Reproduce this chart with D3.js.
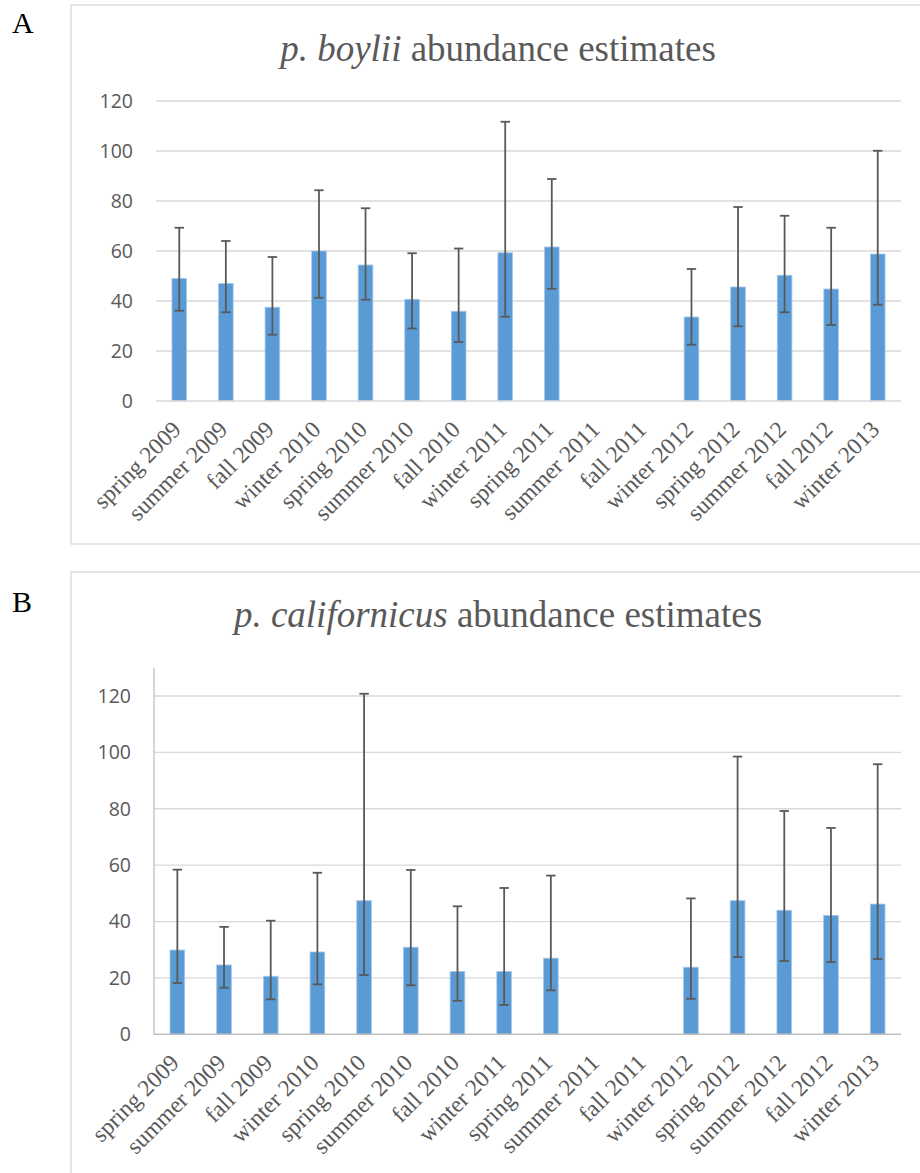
<!DOCTYPE html>
<html>
<head>
<meta charset="utf-8">
<script src="https://cdn.jsdelivr.net/npm/d3@7"></script>
<style>
  body { margin: 0; background: #fff; }
  svg { display: block; }
  .serif { font-family: 'Liberation Serif', 'Times New Roman', serif; }
  .sans { font-family: 'Open Sans', sans-serif; }
</style>
</head>
<body>
<div id="chart"></div>
<script>
// Seasons sampled (summer 2011 and fall 2011 have no estimate)
var seasons = ['spring 2009', 'summer 2009', 'fall 2009', 'winter 2010',
               'spring 2010', 'summer 2010', 'fall 2010', 'winter 2011',
               'spring 2011', 'summer 2011', 'fall 2011', 'winter 2012',
               'spring 2012', 'summer 2012', 'fall 2012', 'winter 2013'];

// p. boylii estimates with lower / upper confidence limits
var boyliiEst   = [49, 47, 37.5, 60, 54.4, 40.7, 35.9, 59.3, 61.6, null, null, 33.6, 45.6, 50.3, 44.8, 58.8];
var boyliiLower = [36.1, 35.5, 26.5, 41.3, 40.5, 29, 23.6, 33.7, 44.9, null, null, 22.5, 29.9, 35.5, 30.4, 38.5];
var boyliiUpper = [69.3, 64, 57.6, 84.3, 77.1, 59.1, 61, 111.7, 88.8, null, null, 52.8, 77.6, 74.1, 69.3, 100.1];

// p. californicus estimates with lower / upper confidence limits
var califEst   = [29.9, 24.6, 20.6, 29.2, 47.4, 30.9, 22.3, 22.3, 27, null, null, 23.8, 47.4, 44, 42.2, 46.2];
var califLower = [18.2, 16.5, 12.4, 17.7, 21, 17.4, 11.9, 10.4, 15.6, null, null, 12.6, 27.4, 26, 25.6, 26.7];
var califUpper = [58.4, 38.1, 40.3, 57.3, 120.8, 58.3, 45.4, 51.9, 56.3, null, null, 48.2, 98.5, 79.2, 73.2, 95.8];

var yTicks = [0, 20, 40, 60, 80, 100, 120];

var barColor = "#5b9bd5";
var textColor = "#595959";
var gridColor = "#d9d9d9";

var svg = d3.select("#chart").append("svg")
    .attr("width", 920)
    .attr("height", 1173);

var panels = [
    {
        letter: "A", letterY: 33,
        box: {x: 71, y: 5, w: 880, h: 539},
        species: "p. boylii", titleY: 61, titleX: 498,
        left: 156, right: 901, top: 101, bottom: 401, yMax: 120,
        axisLine: false,
        est: boyliiEst, lower: boyliiLower, upper: boyliiUpper
    },
    {
        letter: "B", letterY: 612,
        box: {x: 71, y: 572, w: 880, h: 700},
        species: "p. californicus", titleY: 627, titleX: 498,
        left: 154, right: 901, top: 667.8, bottom: 1034.3, yMax: 130,
        axisLine: true,
        est: califEst, lower: califLower, upper: califUpper
    }
];

panels.forEach(function (p) {
    // Panel letter
    svg.append("text")
        .attr("class", "serif")
        .attr("x", 12)
        .attr("y", p.letterY)
        .style("font-size", "30px")
        .attr("fill", "#000")
        .text(p.letter);

    // Chart border
    svg.append("rect")
        .attr("x", p.box.x)
        .attr("y", p.box.y)
        .attr("width", p.box.w)
        .attr("height", p.box.h)
        .attr("fill", "none")
        .attr("stroke", gridColor)
        .attr("stroke-width", 1.3);

    // Title
    var title = svg.append("text")
        .attr("class", "serif")
        .attr("x", p.titleX)
        .attr("y", p.titleY)
        .attr("text-anchor", "middle")
        .style("font-size", "37px")
        .attr("fill", textColor);
    title.append("tspan").style("font-style", "italic").text(p.species);
    title.append("tspan").text(" abundance estimates");

    // Scales
    var x = d3.scaleBand()
        .domain(seasons)
        .range([p.left, p.right]);

    var y = d3.scaleLinear()
        .domain([0, p.yMax])
        .range([p.bottom, p.top]);

    var barW = x.bandwidth() * 0.315;

    // Gridlines
    svg.append("g")
        .selectAll("line")
        .data(yTicks.slice(1))
        .enter().append("line")
        .attr("x1", p.left)
        .attr("x2", p.right)
        .attr("y1", function (d) { return y(d); })
        .attr("y2", function (d) { return y(d); })
        .attr("stroke", gridColor)
        .attr("stroke-width", 1.3);

    // Y axis labels
    var yAxis = d3.axisLeft(y)
        .tickValues(yTicks)
        .tickSize(0)
        .tickPadding(23);

    var yg = svg.append("g")
        .attr("transform", "translate(" + p.left + ",0)")
        .call(yAxis);
    yg.select(".domain").remove();
    yg.selectAll("text")
        .attr("class", "sans")
        .style("font-size", "19.5px")
        .attr("fill", textColor);

    if (p.axisLine) {
        svg.append("line")
            .attr("x1", p.left)
            .attr("x2", p.left)
            .attr("y1", p.top)
            .attr("y2", p.bottom)
            .attr("stroke", "#bfbfbf")
            .attr("stroke-width", 1.3);
    }

    // Bars
    var rows = seasons.map(function (s, i) {
        return {season: s, est: p.est[i], lower: p.lower[i], upper: p.upper[i]};
    }).filter(function (d) { return d.est != null; });

    svg.append("g")
        .selectAll("rect")
        .data(rows)
        .enter().append("rect")
        .attr("x", function (d) { return x(d.season) + (x.bandwidth() - barW) / 2; })
        .attr("y", function (d) { return y(d.est); })
        .attr("width", barW)
        .attr("height", function (d) { return y(0) - y(d.est); })
        .attr("fill", barColor)
        .attr("stroke", "#a8c9ec")
        .attr("stroke-width", 0.8);

    // X axis line
    svg.append("line")
        .attr("x1", p.left)
        .attr("x2", p.right)
        .attr("y1", y(0))
        .attr("y2", y(0))
        .attr("stroke", p.axisLine ? "#bfbfbf" : gridColor)
        .attr("stroke-width", 1.6);

    // Error bars
    var eg = svg.append("g")
        .selectAll("g")
        .data(rows)
        .enter().append("g")
        .attr("stroke", textColor)
        .attr("stroke-width", 1.8);

    eg.append("line")
        .attr("x1", function (d) { return x(d.season) + x.bandwidth() / 2; })
        .attr("x2", function (d) { return x(d.season) + x.bandwidth() / 2; })
        .attr("y1", function (d) { return y(d.lower); })
        .attr("y2", function (d) { return y(d.upper); });

    ['lower', 'upper'].forEach(function (k) {
        eg.append("line")
            .attr("x1", function (d) { return x(d.season) + x.bandwidth() / 2 - 4.7; })
            .attr("x2", function (d) { return x(d.season) + x.bandwidth() / 2 + 4.7; })
            .attr("y1", function (d) { return y(d[k]); })
            .attr("y2", function (d) { return y(d[k]); });
    });

    // Rotated category labels
    svg.append("g")
        .selectAll("text")
        .data(seasons)
        .enter().append("text")
        .attr("class", "serif")
        .attr("transform", function (d) {
            var cx = x(d) + x.bandwidth() / 2 + 3;
            var cy = y(0) + 30;
            return "translate(" + cx + "," + cy + ") rotate(-45)";
        })
        .attr("text-anchor", "end")
        .style("font-size", "23.5px")
        .attr("fill", textColor)
        .text(function (d) { return d; });
});
</script>
</body>
</html>
